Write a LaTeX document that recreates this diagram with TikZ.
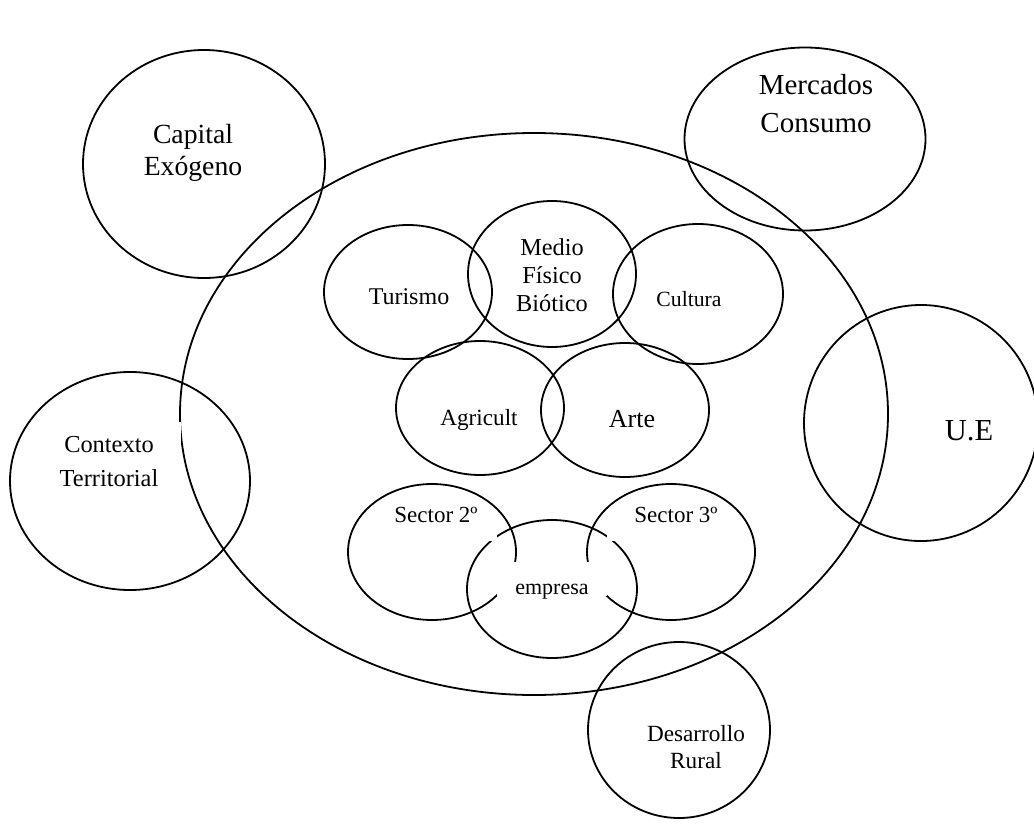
\documentclass[tikz,border=0pt]{standalone}
\usepackage{fontspec}
\setmainfont{Liberation Serif}
\usetikzlibrary{shapes.geometric}

\tikzset{%
  zone/.style={
    ellipse,
    draw,
    line width=1.8pt,
    inner sep=0pt
  },
  tag/.style 2 args={
    align=center,
    inner sep=0pt,
    font=\fontsize{#1}{#2}\selectfont
  },
  mask/.style={
    fill=white,
    inner sep=0pt
  },
}

\begin{document}
\begin{tikzpicture}[x=1pt, y=-1pt]

\useasboundingbox (0,0) rectangle (1034,830);

\foreach \n/\cx/\cy/\w/\h in {big/534/414/708/562, capital/204/164/242/228,
    mercados/805/139/241/183, ue/921/423/234/236, contexto/130/481/240/218,
    desarrollo/679/730/182/176, turismo/408/292/168/134, medio/552/274/168/146,
    cultura/698/294/170/140, agricult/480/408/168/134, arte/625/410/168/134,
    sector2/432/552/168/136, sector3/671/552/168/136, empresa/552/589/170/138}
  \node [zone, minimum width=\w pt, minimum height=\h pt] (\n) at (\cx,\cy) {};

\node [tag={27.7}{32}] (capital-txt) at (193,152.6) {Capital\\Exógeno};
\node [tag={29}{38}] (mercados-txt) at (816,104) {Mercados\\Consumo};
\node [tag={30.5}{36}] (ue-txt) at (969,431) {U.E};
\node [tag={24.4}{34}, mask, minimum width=144pt, minimum height=79.4pt]
  (contexto-txt) at (109,461.7) {Contexto\\Territorial};
\node [tag={23.2}{27}] (desarrollo-txt) at (696,746.6) {Desarrollo\\Rural};

\node [tag={24}{28}] (turismo-txt) at (409,297) {Turismo};
\node [tag={24.3}{28.3}] (medio-txt) at (552,275) {Medio\\Físico\\Biótico};
\node [tag={21.7}{26}] (cultura-txt) at (689,298.6) {Cultura};
\node [tag={23.2}{27}] (agricult-txt) at (479,419.7) {Agricult};
\node [tag={26}{30}] (arte-txt) at (632,419.2) {Arte};

\node [tag={23}{27}, mask, anchor=base, text height=12pt, text depth=19pt,
  minimum width=122pt] (sector2-txt) at (436,522) {Sector 2º};
\node [tag={23}{27}, mask, anchor=base, text height=0pt, text depth=19pt,
  minimum width=138pt] (sector3-txt) at (676,522) {Sector 3º};
\node [tag={22}{26}, mask, anchor=base, text height=32pt, text depth=2pt,
  minimum width=110pt] (empresa-txt) at (552,594) {empresa};

\end{tikzpicture}
\end{document}
